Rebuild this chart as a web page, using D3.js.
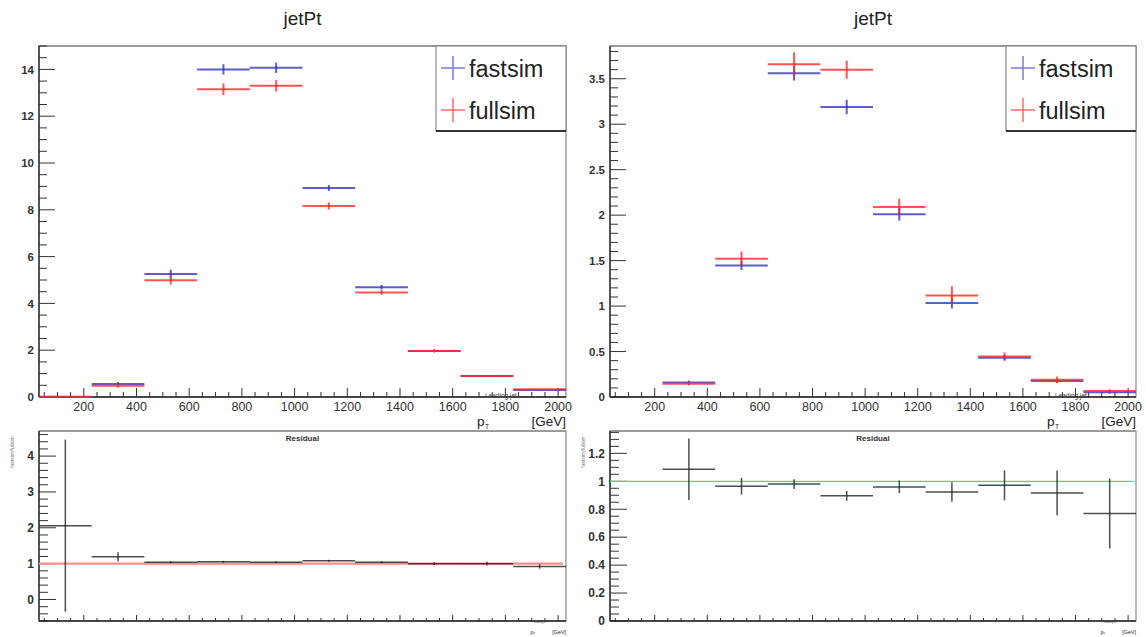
<!DOCTYPE html>
<html>
<head>
<meta charset="utf-8">
<script src="https://cdn.jsdelivr.net/npm/d3@7"></script>
<style>
body { margin: 0; background: #fff; }
svg { display: block; font-family: "Liberation Sans", Arial, sans-serif; }
</style>
</head>
<body>
<svg id="chart" width="1146" height="637"></svg>
<script>
// bins of leading jet pT [GeV]
var binLow = [30, 230, 430, 630, 830, 1030, 1230, 1430, 1630, 1830];
var binWidth = 200;

// left pad
var fastLeft    = [0.008, 0.56, 5.26, 14.0, 14.07, 8.93, 4.69, 1.97, 0.90, 0.30];
var fastLeftErr = [0.006, 0.08, 0.18, 0.22, 0.22, 0.13, 0.10, 0.06, 0.03, 0.02];
var fullLeft    = [0.004, 0.48, 4.99, 13.15, 13.3, 8.16, 4.47, 1.97, 0.90, 0.33];
var fullLeftErr = [0.003, 0.08, 0.18, 0.25, 0.24, 0.15, 0.10, 0.06, 0.03, 0.02];
var resLeft     = [2.06, 1.19, 1.04, 1.05, 1.04, 1.08, 1.04, 1.0, 1.0, 0.92];
var resLeftErr  = [2.40, 0.13, 0.03, 0.03, 0.03, 0.03, 0.03, 0.04, 0.05, 0.06];

// right pad
var fastRight    = [null, 0.16, 1.447, 3.56, 3.19, 2.01, 1.033, 0.432, 0.175, 0.051];
var fastRightErr = [null, 0.02, 0.05, 0.08, 0.08, 0.07, 0.06, 0.03, 0.02, 0.015];
var fullRight    = [null, 0.147, 1.52, 3.66, 3.60, 2.09, 1.117, 0.445, 0.19, 0.066];
var fullRightErr = [null, 0.02, 0.08, 0.13, 0.10, 0.09, 0.10, 0.045, 0.035, 0.02];
var resRight     = [null, 1.087, 0.965, 0.98, 0.896, 0.96, 0.924, 0.971, 0.917, 0.769];
var resRightErr  = [null, 0.22, 0.06, 0.035, 0.035, 0.045, 0.07, 0.107, 0.16, 0.25];

// tick labels
var xTicks = [200, 400, 600, 800, 1000, 1200, 1400, 1600, 1800, 2000];
var yTicksTopLeft = [0, 2, 4, 6, 8, 10, 12, 14];
var yTicksTopRight = [0, 0.5, 1, 1.5, 2, 2.5, 3, 3.5];
var yTicksResLeft = [0, 1, 2, 3, 4];
var yTicksResRight = [0, 0.2, 0.4, 0.6, 0.8, 1, 1.2];

var svg = d3.select("#chart");
var fmt = d3.format("~g");
var clipId = 0;

function minorTicks(domain, step) {
    var lo = Math.ceil(Math.min(domain[0], domain[1]) / step - 1e-6);
    var hi = Math.floor(Math.max(domain[0], domain[1]) / step + 1e-6);
    return d3.range(lo, hi + 1).map(function(k){ return k * step; });
}

function drawPad(o) {
    var g = svg.append("g");
    var x = d3.scaleLinear().domain([30, 2030]).range([o.left, o.right]);
    var y = d3.scaleLinear().domain(o.yDomain).range([o.bottom, o.top]);

    // frame
    g.append("rect")
        .attr("x", o.left).attr("y", o.top)
        .attr("width", o.right - o.left).attr("height", o.bottom - o.top)
        .attr("fill", "none").attr("stroke", "#8a8a8a").attr("stroke-width", 1.2);
    g.append("line").attr("x1", o.left).attr("x2", o.right)
        .attr("y1", o.top).attr("y2", o.top)
        .attr("stroke", "#9a9a9a").attr("stroke-width", 2);

    // x ticks (inside)
    g.selectAll(null).data(minorTicks(x.domain(), 50)).enter().append("line")
        .attr("x1", function(d){ return x(d); }).attr("x2", function(d){ return x(d); })
        .attr("y1", o.bottom)
        .attr("y2", function(d){ return o.bottom - (d % 200 === 0 ? o.xMajor : o.xMinor); })
        .attr("stroke", "#333").attr("stroke-width", 1);

    // y ticks (inside)
    g.selectAll(null).data(minorTicks(o.yDomain, o.yMinorStep)).enter().append("line")
        .attr("y1", function(d){ return y(d); }).attr("y2", function(d){ return y(d); })
        .attr("x1", o.left)
        .attr("x2", function(d){
            var major = Math.abs(d / o.yMajorStep - Math.round(d / o.yMajorStep)) < 1e-6;
            return o.left + (major ? o.yMajor : o.yMinor);
        })
        .attr("stroke", "#333").attr("stroke-width", 1);

    // axis lines
    g.append("line").attr("x1", o.left).attr("x2", o.right)
        .attr("y1", o.bottom).attr("y2", o.bottom)
        .attr("stroke", "#222").attr("stroke-width", 1.5);
    g.append("line").attr("x1", o.left).attr("x2", o.left)
        .attr("y1", o.top).attr("y2", o.bottom)
        .attr("stroke", "#333").attr("stroke-width", 1.5);

    // y labels
    g.selectAll(null).data(o.yLabels).enter().append("text")
        .attr("x", o.left - 5)
        .attr("y", function(d){ return y(d); })
        .attr("dy", "0.36em")
        .attr("text-anchor", "end")
        .attr("font-size", o.yFont + "px")
        .attr("font-weight", "bold")
        .attr("fill", "#333")
        .text(function(d){ return fmt(d); });

    if (o.xLabels) {
        g.selectAll(null).data(xTicks).enter().append("text")
            .attr("x", function(d){ return x(d); })
            .attr("y", o.bottom + 13.5)
            .attr("text-anchor", "middle")
            .attr("font-size", "12.5px")
            .attr("fill", "#333")
            .text(function(d){ return d; });
    }

    clipId += 1;
    svg.append("clipPath").attr("id", "clip" + clipId)
        .append("rect")
        .attr("x", o.left).attr("y", o.top)
        .attr("width", o.right - o.left).attr("height", o.bottom - o.top + 1);
    var data = g.append("g").attr("clip-path", "url(#clip" + clipId + ")");
    return {g: g, data: data, x: x, y: y};
}

function drawHist(p, vals, errs, color, width, opacity) {
    var pts = binLow.map(function(lo, i){ return {lo: lo, v: vals[i], e: errs[i]}; })
        .filter(function(d){ return d.v !== null; });
    p.data.selectAll(null).data(pts).enter().append("line")
        .attr("x1", function(d){ return p.x(d.lo); })
        .attr("x2", function(d){ return p.x(d.lo + binWidth); })
        .attr("y1", function(d){ return p.y(d.v); })
        .attr("y2", function(d){ return p.y(d.v); })
        .attr("stroke", color).attr("stroke-width", width).attr("opacity", opacity);
    p.data.selectAll(null).data(pts).enter().append("line")
        .attr("x1", function(d){ return p.x(d.lo + binWidth / 2); })
        .attr("x2", function(d){ return p.x(d.lo + binWidth / 2); })
        .attr("y1", function(d){ return p.y(d.v - d.e); })
        .attr("y2", function(d){ return p.y(d.v + d.e); })
        .attr("stroke", color).attr("stroke-width", width).attr("opacity", opacity);
}

function xTitle(g, xRight, base, s) {
    // p_T^{Leading jet} [GeV]
    g.append("text").attr("x", xRight).attr("y", base)
        .attr("text-anchor", "end").attr("font-size", (13.5 * s) + "px").attr("fill", "#222")
        .text("[GeV]");
    g.append("text").attr("x", xRight - 89 * s).attr("y", base)
        .attr("font-size", (13.5 * s) + "px").attr("fill", "#222").text("p");
    g.append("text").attr("x", xRight - 81 * s).attr("y", base + 3 * s)
        .attr("font-size", (6.5 * s) + "px").attr("fill", "#222").text("T");
    g.append("text").attr("x", xRight - 81 * s).attr("y", base - 28 * s)
        .attr("font-size", (6.5 * s) + "px").attr("fill", "#444").text("Leading jet");
}

function legend(g, right, top) {
    var w = 130, h = 85, lx = right - w;
    g.append("rect").attr("x", lx).attr("y", top).attr("width", w).attr("height", h)
        .attr("fill", "#fff").attr("stroke", "#777").attr("stroke-width", 1);
    g.append("line").attr("x1", lx).attr("x2", right).attr("y1", top + h).attr("y2", top + h)
        .attr("stroke", "#333").attr("stroke-width", 2);
    var entries = [{name: "fastsim", color: "#7a7ae0", cy: top + 22},
                   {name: "fullsim", color: "#ff6a6a", cy: top + 64}];
    entries.forEach(function(e){
        g.append("line").attr("x1", lx + 5).attr("x2", lx + 29).attr("y1", e.cy).attr("y2", e.cy)
            .attr("stroke", e.color).attr("stroke-width", 1.5);
        g.append("line").attr("x1", lx + 17).attr("x2", lx + 17).attr("y1", e.cy - 12).attr("y2", e.cy + 12)
            .attr("stroke", e.color).attr("stroke-width", 1.5);
        g.append("text").attr("x", lx + 33).attr("y", e.cy + 9)
            .attr("font-size", "23.5px").attr("fill", "#222").text(e.name);
    });
}

function drawColumn(c) {
    var top = drawPad({left: c.left, right: c.right, top: 46, bottom: 397,
        yDomain: c.topDomain, yLabels: c.topLabels, yMajorStep: c.topMajor, yMinorStep: c.topMinor,
        xMajor: 9, xMinor: 5, yMajor: 16, yMinor: 8, yFont: 11.5, xLabels: true});
    drawHist(top, c.fast, c.fastErr, "#3535c0", 2, 0.8);
    drawHist(top, c.full, c.fullErr, "#ff2a2a", 2, 0.8);
    legend(top.g, c.right, 46);
    top.g.append("text").attr("x", (c.left + c.right) / 2).attr("y", 25)
        .attr("text-anchor", "middle").attr("font-size", "19px").attr("fill", "#222")
        .text("jetPt");
    xTitle(top.g, c.right, 426, 1);

    var res = drawPad({left: c.left, right: c.right, top: 431, bottom: 621,
        yDomain: c.resDomain, yLabels: c.resLabels, yMajorStep: c.resMajor, yMinorStep: c.resMinor,
        xMajor: 6, xMinor: 3, yMajor: 17, yMinor: 9, yFont: 12, xLabels: false});
    res.data.append("line")
        .attr("x1", c.left).attr("x2", c.right - 3)
        .attr("y1", res.y(1)).attr("y2", res.y(1))
        .attr("stroke", "#ff8a8a").attr("stroke-width", c.lineW);
    drawHist(res, c.res, c.resErr, "#222", 1.5, 0.8);
    res.g.append("text").attr("x", (c.left + c.right) / 2).attr("y", 441)
        .attr("text-anchor", "middle").attr("font-size", "8px").attr("font-weight", "bold")
        .attr("fill", "#333").text("Residual");
    xTitle(res.g, c.right, 634, 0.4);
    res.g.append("text")
        .attr("transform", "translate(" + (c.left - 25) + ",452) rotate(-90)")
        .attr("text-anchor", "middle").attr("font-size", "5px").attr("fill", "#777")
        .text("fastsim/fullsim");
}

drawColumn({left: 39, right: 566,
    topDomain: [0, 15], topLabels: yTicksTopLeft, topMajor: 2, topMinor: 0.5,
    fast: fastLeft, fastErr: fastLeftErr, full: fullLeft, fullErr: fullLeftErr,
    resDomain: [-0.6, 4.7], resLabels: yTicksResLeft, resMajor: 1, resMinor: 0.2,
    res: resLeft, resErr: resLeftErr, lineW: 2.2});

drawColumn({left: 610, right: 1136,
    topDomain: [0, 3.86], topLabels: yTicksTopRight, topMajor: 0.5, topMinor: 0.1,
    fast: fastRight, fastErr: fastRightErr, full: fullRight, fullErr: fullRightErr,
    resDomain: [0, 1.36], resLabels: yTicksResRight, resMajor: 0.2, resMinor: 0.05,
    res: resRight, resErr: resRightErr, lineW: 1.2});
</script>
</body>
</html>
